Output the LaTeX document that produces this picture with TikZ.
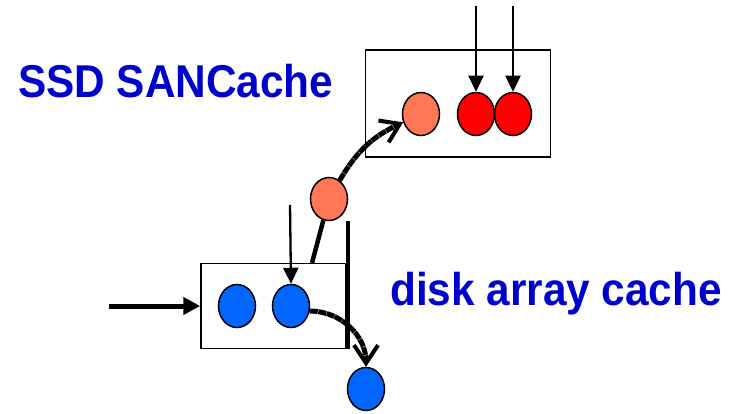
\documentclass[tikz,border=0pt]{standalone}
\usepackage{fontspec}
\setmainfont{Liberation Sans}
\newfontfamily\labelfont[FakeStretch=0.92]{Liberation Sans}
\usepackage{tikz}
\usetikzlibrary{arrows.meta,positioning,shapes.geometric}
\definecolor{cache_blue}{RGB}{0,102,255}
\definecolor{cache_coral}{RGB}{255,119,85}
\definecolor{cache_red}{RGB}{255,0,0}
\definecolor{label_blue}{RGB}{0,0,204}
\tikzset{
cache_box/.style={rectangle, draw, line width=1.5pt, fill=white},
block/.style={ellipse, draw, line width=1.5pt, minimum width=37pt, minimum height=43pt, inner sep=0pt},
blue_block/.style={block, fill=cache_blue},
coral_block/.style={block, fill=cache_coral},
red_block/.style={block, fill=cache_red},
request/.style={line width=2.3pt, -{Triangle[length=16pt,width=15pt]}},
big_request/.style={line width=5pt, -{Triangle[length=17pt,width=17pt]}},
move/.style={line width=5pt, dash pattern=on 8pt off 0.6pt, -{Straight Barb[length=18pt,width=24pt,line width=4pt]}},
wall/.style={line width=4pt},
label_text/.style={text=label_blue, font=\labelfont\fontsize{46}{55}\selectfont\bfseries, inner sep=0pt, anchor=base west}
}

\begin{document}
\begin{tikzpicture}[x=1pt,y=1pt]
    \useasboundingbox (0,0) rectangle (729,413);
    % boxes
    \node[cache_box, minimum width=185pt, minimum height=107pt] (ssd_box) at (458,309.5) {};
    \node[cache_box, minimum width=145pt, minimum height=85pt] (disk_box) at (273.5,107) {};
    % labels
    \node[label_text] (ssd_label) at (18,315.7) {SSD SANCache};
    \node[label_text] (disk_label) at (390,107.3) {disk array cache};
    % blocks
    \node[blue_block] (blue_1) at (237,107) {};
    \node[blue_block] (blue_2) at (291,107) {};
    \node[blue_block] (blue_3) at (366,24) {};
    \node[coral_block] (coral_mid) at (329,214) {};
    \node[coral_block] (coral_up) at (421,299) {};
    \node[red_block] (red_1) at (476,299) {};
    \node[red_block] (red_2) [right=-1.5pt of red_1] {};
    % free ends
    \coordinate (in_left) at (109,107);
    \coordinate (in_blue) at (290,208);
    \coordinate (in_red_1) at (476,407);
    \coordinate (in_red_2) at (513,407);
    \coordinate (box_exit) at (312,150);
    \coordinate (wall_top) at (348,192);
    \coordinate (wall_bottom) at (348,64);

    \draw[big_request] (in_left) -- (disk_box.west);
    \draw[request] (in_blue) -- (blue_2.north);
    \draw[request] (in_red_1) -- (red_1.north);
    \draw[request] (in_red_2) -- (red_2.north);
    \draw[wall] (wall_top) -- (wall_bottom);
    \draw[line width=4.5pt] (box_exit) -- (coral_mid);
    \draw[move] (coral_mid) to[out=60,in=205] (coral_up);
    \draw[move] (blue_2.-15) to[out=0,in=90] (blue_3.north);
\end{tikzpicture}
\end{document}
